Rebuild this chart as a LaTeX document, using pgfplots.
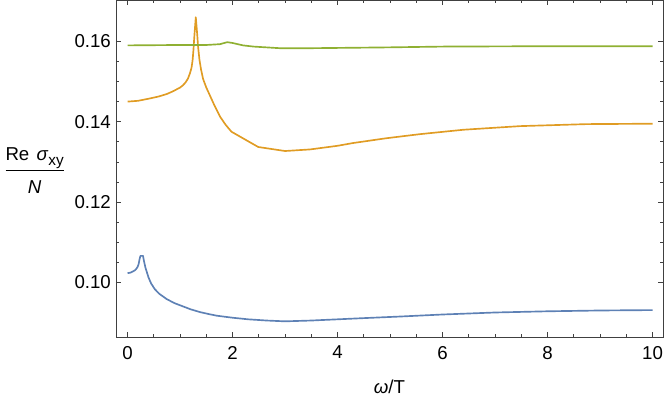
\documentclass[border=0pt]{standalone}
\usepackage{fontspec}
\setmainfont{Liberation Sans}
\usepackage{pgfplots}
\pgfplotsset{compat=1.18}
\definecolor{mblue}{RGB}{94,129,181}
\definecolor{morange}{RGB}{224,156,36}
\definecolor{mgreen}{RGB}{143,176,50}

\begin{document}
\fontsize{14}{17}\selectfont
\begin{tikzpicture}
\begin{axis}[
    scale only axis,
    width=410.25pt, height=252.75pt,
    xmin=-0.22, xmax=10.2,
    ymin=0.0864, ymax=0.1703,
    xtick={0,2,...,10},
    ytick={0.10,0.12,0.14,0.16},
    minor x tick num=3,
    minor y tick num=3,
    tick align=inside,
    major tick length=4pt,
    minor tick length=2.3pt,
    axis line style={black!75, line width=0.6pt},
    every tick/.style={black!75, line width=0.5pt},
    tick label style={font=\fontsize{14}{17}\selectfont, black},
    xticklabel style={yshift=-2pt},
    yticklabel style={xshift=1pt, /pgf/number format/fixed, /pgf/number format/fixed zerofill, /pgf/number format/precision=2},
    /pgf/number format/assume math mode=true,
    scaled y ticks=false,
    xlabel={\textit{ω}/T},
    ylabel={\begin{tabular}{@{}c@{}}Re\hspace{1.5pt} \textit{σ}\raisebox{-3.5pt}{\fontsize{11.5}{13}\selectfont xy}\\[2pt]\hline\rule{0pt}{17pt}\textit{N}\end{tabular}},
    every axis x label/.style={at={(rel axis cs:0.5,0)}, anchor=center, yshift=-37.5pt},
    every axis y label/.style={at={(rel axis cs:0,0.5)}, anchor=east, inner sep=0pt, xshift=-39pt, yshift=-3pt},
    label style={font=\fontsize{14}{17}\selectfont},
    every axis plot/.append style={line width=1.25pt, no marks, line join=round},
]
\addplot[mblue] coordinates {
 (0,0.1023) (0.05,0.1024) (0.1,0.1027) (0.15,0.1031) (0.19,0.1038) (0.21,0.1045)
 (0.23,0.1058) (0.245,0.1066) (0.295,0.1066) (0.31,0.1055) (0.34,0.1037) (0.4,0.1012)
 (0.45,0.0997) (0.52,0.0983) (0.6,0.0972) (0.75,0.0958) (0.9,0.0948) (1.06,0.0940)
 (1.2,0.0933) (1.38,0.0926) (1.55,0.0921) (1.7,0.0917) (2,0.0912) (2.3,0.0908)
 (2.65,0.0905) (3,0.0903) (3.5,0.0905) (4,0.0908) (4.5,0.0911) (5.2,0.0915)
 (6,0.0920) (7,0.0925) (8,0.0928) (9,0.0930) (10,0.0931)
};
\addplot[morange] coordinates {
 (0,0.1450) (0.2,0.1452) (0.43,0.1458) (0.6,0.1463) (0.75,0.1469) (0.87,0.1476)
 (1.0,0.1485) (1.05,0.1490) (1.1,0.1497) (1.15,0.1507) (1.19,0.1521) (1.22,0.1535)
 (1.24,0.1554) (1.255,0.1578) (1.27,0.1608) (1.285,0.1635) (1.30,0.1660)
 (1.315,0.1637) (1.33,0.1612) (1.345,0.1585) (1.37,0.1554) (1.40,0.1530)
 (1.44,0.1506) (1.5,0.1485) (1.57,0.1465) (1.65,0.1442)
 (1.76,0.1413) (1.87,0.1392) (1.98,0.1375) (2.49,0.1337) (3.0,0.1327) (3.48,0.1331) (4,0.1340)
 (4.3,0.1347) (4.94,0.1359) (5.57,0.1369) (6.4,0.1380) (7.48,0.1389) (8.75,0.1394)
 (10,0.1395)
};
\addplot[mgreen] coordinates {
 (0,0.1590) (1,0.1591) (1.5,0.1591) (1.76,0.1593) (1.90,0.1598) (2.0,0.1596)
 (2.2,0.1590) (2.4,0.1587) (2.9,0.1583) (3.5,0.1583) (4.94,0.1585) (6,0.1587)
 (8.1,0.1588) (10,0.1588)
};
\coordinate (sw) at (rel axis cs:0,0);
\coordinate (ne) at (rel axis cs:1,1);
\end{axis}
\pgfresetboundingbox
\path[use as bounding box] ([xshift=-87pt,yshift=-46.5pt]sw) rectangle ([xshift=0.75pt]ne);
\end{tikzpicture}
\end{document}
